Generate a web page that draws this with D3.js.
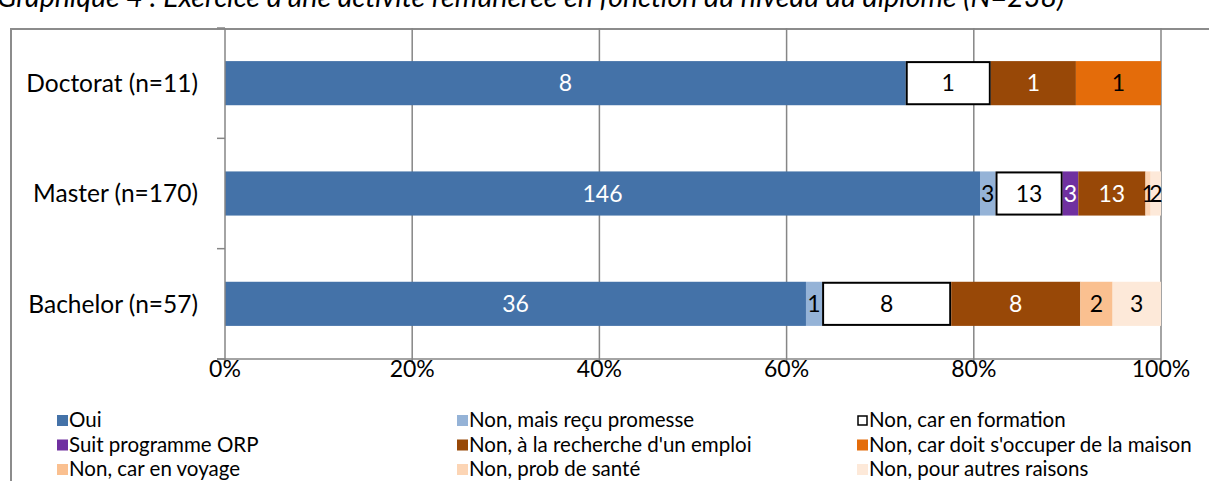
<!DOCTYPE html>
<html><head><meta charset="utf-8">
<script src="https://cdn.jsdelivr.net/npm/d3@7/dist/d3.min.js"></script>
<style>
body{margin:0;background:#fff;}
svg{display:block;font-family:Lato, "Liberation Sans", sans-serif;}
</style></head><body>
<svg id="c" width="1209" height="481"></svg>
<script>
const title = "Graphique 4 : Exercice d'une activité rémunérée en fonction du niveau du diplôme (N=238)";
const categories = ["Doctorat (n=11)", "Master (n=170)", "Bachelor (n=57)"];
const seriesNames = ["Oui","Non, mais reçu promesse","Non, car en formation","Suit programme ORP","Non, à la recherche d'un emploi","Non, car doit s'occuper de la maison","Non, car en voyage","Non, prob de santé","Non, pour autres raisons"];
const seriesColors = ["#4472A8","#95B3D7","#FFFFFF","#7030A0","#984807","#E46C0A","#FAC090","#FCD5B5","#FDE9D9"];
const labelColors = ["#fff","#000","#000","#fff","#fff","#000","#000","#000","#000"];
const oui       = [8, 146, 36];
const promesse  = [0, 3, 1];
const formation = [1, 13, 8];
const orp       = [0, 3, 0];
const recherche = [1, 13, 8];
const maison    = [1, 0, 0];
const voyage    = [0, 0, 2];
const sante     = [0, 1, 0];
const autres    = [0, 2, 3];
const seriesValues = [oui, promesse, formation, orp, recherche, maison, voyage, sante, autres];
const xTicks = [0, 0.2, 0.4, 0.6, 0.8, 1];

const svg = d3.select("#c");
// title (partially cut)
svg.append("text").attr("x", -3).attr("y", 7).attr("font-style","italic")
  .attr("font-size", 28.5).attr("fill","#000").text(title);
// chart border
svg.append("path").attr("d","M11,482 V29 H1215").attr("fill","none").attr("stroke","#8c8c8c").attr("stroke-width",2);

const x = d3.scaleLinear().domain([0,1]).range([225,1161]);
const y = d3.scaleBand().domain(categories).range([28,359]).paddingInner(0.6).paddingOuter(0.3);

// gridlines
svg.append("g").selectAll("line").data(xTicks.slice(1)).join("line")
  .attr("x1", d=>x(d)).attr("x2", d=>x(d)).attr("y1",28).attr("y2",359)
  .attr("stroke","#868686").attr("stroke-width",1.5);

// stacks
const rows = categories.map((c,i)=>{ const o={cat:c}; seriesNames.forEach((s,j)=>o[s]=seriesValues[j][i]); return o;});
const stack = d3.stack().keys(seriesNames).offset(d3.stackOffsetExpand);
const layers = stack(rows);
layers.forEach((layer, j)=>{
  const g = svg.append("g");
  layer.forEach((d,i)=>{
    const v = seriesValues[j][i];
    if(!v) return;
    const x0 = x(d[0]), x1 = x(d[1]);
    const isF = j===2;
    g.append("rect").attr("x", x0 + (isF?1:0)).attr("y", y(categories[i]) + (isF?1:0))
      .attr("width", x1-x0 - (isF?2:0)).attr("height", y.bandwidth() - (isF?2:0))
      .attr("fill", seriesColors[j]).attr("stroke", isF?"#000":"none").attr("stroke-width", isF?2:0);
  });
});
// labels
layers.forEach((layer, j)=>{
  layer.forEach((d,i)=>{
    const v = seriesValues[j][i];
    if(!v) return;
    svg.append("text").attr("x",(x(d[0])+x(d[1]))/2).attr("y", y(categories[i])+y.bandwidth()/2)
      .attr("dy","0.36em").attr("text-anchor","middle").attr("font-size",23)
      .attr("fill", labelColors[j]).text(v);
  });
});

// axes
const ax = svg.append("g").attr("stroke","#868686").attr("stroke-width",1.5);
ax.append("line").attr("x1",225).attr("x2",225).attr("y1",28).attr("y2",363);
ax.append("line").attr("x1",217).attr("x2",1161).attr("y1",359).attr("y2",359);
const bounds = [28].concat(categories.map(c=>y(c) + y.bandwidth() + (y.step()-y.bandwidth())/2));
ax.selectAll(".yt").data(bounds).join("line").attr("x1",217).attr("x2",225).attr("y1",d=>d).attr("y2",d=>d);
ax.selectAll(".xt").data(xTicks).join("line").attr("x1",d=>x(d)).attr("x2",d=>x(d)).attr("y1",359).attr("y2",364);

svg.append("g").selectAll("text").data(xTicks).join("text")
  .attr("x", d=>x(d)).attr("y", 369).attr("dy","0.36em").attr("text-anchor","middle")
  .attr("font-size",23).text(d3.format(".0%"));
svg.append("g").selectAll("text").data(categories).join("text")
  .attr("x", 198).attr("y", d=>y(d)+y.bandwidth()/2).attr("dy","0.36em").attr("text-anchor","end")
  .attr("font-size",24.5).text(d=>d);

// legend
const lg = svg.append("g");
seriesNames.forEach((s,j)=>{
  const col = j%3, row = Math.floor(j/3);
  const lx = 57 + col*400, ly = 420 + row*24.5;
  lg.append("rect").attr("x", lx + (j===2?1:0)).attr("y", ly-5 + (j===2?1:0))
    .attr("width", j===2?9:11).attr("height", j===2?9:11)
    .attr("fill", seriesColors[j]).attr("stroke", j===2?"#000":"none").attr("stroke-width", j===2?1.5:0);
  lg.append("text").attr("x", lx+12).attr("y", ly).attr("dy","0.36em").attr("font-size",20.5).text(s);
});
</script></body></html>
